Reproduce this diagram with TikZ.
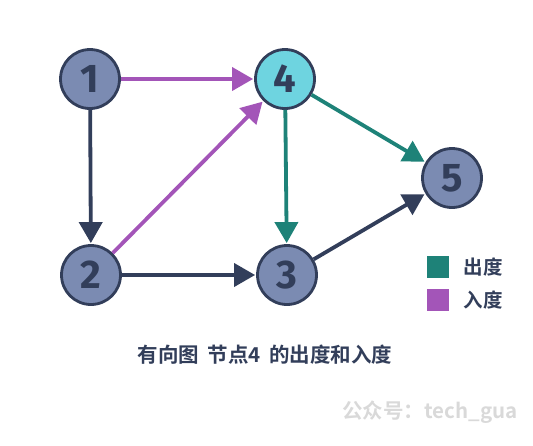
\documentclass[tikz,border=0pt]{standalone}
\usepackage{fontspec}
\setmainfont{Fira Sans}
\newfontfamily\cjk{Noto Sans CJK SC}[BoldFont={Noto Sans CJK SC Bold}]
\usetikzlibrary{arrows.meta}
\definecolor{navy}{HTML}{323E5A}
\definecolor{nodefill}{HTML}{7B8BB2}
\definecolor{cyanfill}{HTML}{6ED4E0}
\definecolor{teal}{HTML}{1E8278}
\definecolor{purp}{HTML}{A355B8}
\definecolor{wm}{HTML}{D9D9D9}
\begin{document}
\begin{tikzpicture}[x=1pt,y=-1pt,
  vert/.style={circle,draw=navy,line width=2.8pt,fill=nodefill,minimum size=59pt,inner sep=0pt,font=\fontsize{40}{40}\selectfont\bfseries,text=navy},
  edge/.style={line width=3.8pt,-{Triangle[length=21pt,width=23pt]},shorten >=1pt},
  lbl/.style={font=\cjk\fontsize{19.5}{19.5}\selectfont\bfseries,text=navy}]
\useasboundingbox (0,0) rectangle (533,445);
\node[vert] (n1) at (90,79) {1};
\node[vert,fill=cyanfill] (n4) at (285,79) {4};
\node[vert] (n2) at (91,275) {2};
\node[vert] (n3) at (287,275) {3};
\node[vert] (n5) at (452,178) {5};
\draw[edge,purp] (n1) -- (n4);
\draw[edge,navy] (n1) -- (n2);
\draw[edge,purp] (n2) -- (n4);
\draw[edge,teal] (n4) -- (n3);
\draw[edge,teal] (n4) -- (n5);
\draw[edge,navy] (n2) -- (n3);
\draw[edge,navy] (n3) -- (n5);
\node[fill=teal,minimum size=22pt,inner sep=0pt] (lg1) at (438,267) {};
\node[fill=purp,minimum size=22pt,inner sep=0pt] (lg2) at (438,300) {};
\node[lbl,anchor=west] (t1) at (460,267) {出度};
\node[lbl,anchor=west] (t2) at (460,300) {入度};
\node[lbl,font=\cjk\fontsize{20.5}{20.5}\selectfont\bfseries] (title) at (265,355) {有向图\hspace{4pt} 节点4\hspace{4pt} 的出度和入度};
\node[font=\cjk\fontsize{20.5}{20.5}\selectfont\bfseries,text=wm] (wmark) at (430,412) {公众号：tech\_gua};
\end{tikzpicture}
\end{document}
